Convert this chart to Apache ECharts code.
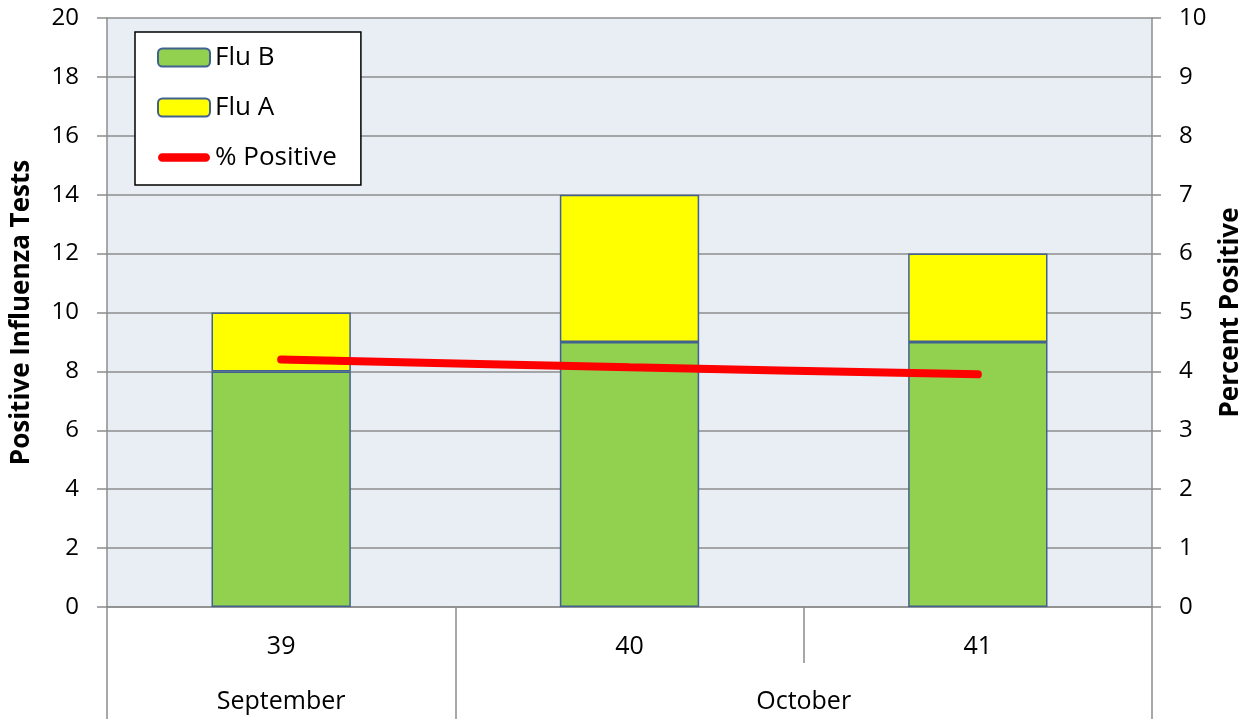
<!DOCTYPE html>
<html>
<head>
<meta charset="utf-8">
<script src="https://cdn.jsdelivr.net/npm/echarts@6/dist/echarts.min.js"></script>
<style>html,body{margin:0;padding:0;background:#fff}#c{width:1240px;height:721px}</style>
</head>
<body>
<div id="c"></div>
<script>
var weeks = ['39', '40', '41'];
var fluB = [8, 9, 9];
var fluA = [2, 5, 3];
var pctPositive = [4.2, 4.07, 3.95];
// second-level axis: 7 evenly spaced points across 3 week bands (half-band steps)
var monthSlots = ['', 'September', '', '', 'October', '', ''];
var monthBounds = [0, 1, 3];   // month boundaries, in week-band units

var FONT = 'Open Sans';
var GRAY = '#8c8c8c';
var chart = echarts.init(document.getElementById('c'));
chart.setOption({
  animation: false,
  textStyle: { fontFamily: FONT, color: '#000' },
  grid: { left: 107, right: 88, top: 18, bottom: 114, outerBoundsMode: 'none', containLabel: false,
          show: true, backgroundColor: '#e9edf4', borderWidth: 0 },
  legend: {
    orient: 'vertical', left: 135, top: 32,
    padding: [12, 24, 14, 22],
    backgroundColor: '#fff', borderColor: '#000', borderWidth: 1.5,
    itemWidth: 52, itemHeight: 18, itemGap: 23,
    textStyle: { fontFamily: FONT, fontSize: 26, lineHeight: 27, color: '#000' },
    data: ['Flu B', 'Flu A', {
      name: '% Positive',
      icon: 'path://M0,0L0.01,0L0,0.01Z M5,4 L55,4 A5,5 0 0 1 55,14 L5,14 A5,5 0 0 1 5,4Z M0,18L0.01,18L0,17.99Z',
      itemStyle: { color: '#ff0000', borderWidth: 0 }
    }]
  },
  xAxis: [{
    type: 'category', data: weeks, position: 'bottom',
    axisLine: { lineStyle: { color: GRAY, width: 1.5 } },
    axisTick: { show: true, interval: 0, length: 56, lineStyle: { color: GRAY, width: 1.5 } },
    axisLabel: { fontFamily: FONT, fontSize: 25, color: '#000', margin: 27 }
  }, {
    type: 'category', data: monthSlots, boundaryGap: false, position: 'bottom', offset: 56,
    axisLine: { show: false, onZero: false },
    splitLine: { show: false },
    axisTick: { show: false },
    axisLabel: { interval: 0, fontFamily: FONT, fontSize: 25, color: '#000', margin: 26 }
  }, {
    type: 'value', min: 0, max: 3, position: 'bottom', offset: 56,
    axisLine: { show: true, onZero: false, lineStyle: { color: 'rgba(0,0,0,0)', width: 1 } },
    splitLine: { show: false },
    axisTick: { show: true, customValues: monthBounds, length: 56, lineStyle: { color: GRAY, width: 1.5 } },
    axisLabel: { show: false }
  }],
  yAxis: [{
    type: 'value', min: 0, max: 20, interval: 2,
    name: 'Positive Influenza Tests', nameLocation: 'middle', nameRotate: 90, nameGap: 72,
    nameTextStyle: { fontFamily: FONT, fontSize: 26, fontWeight: 'bold', color: '#000' },
    axisLine: { show: true, lineStyle: { color: GRAY, width: 1.5 } },
    axisTick: { show: true, length: 10, lineStyle: { color: GRAY, width: 1.5 } },
    axisLabel: { fontFamily: FONT, fontSize: 24, color: '#000', margin: 28 },
    splitLine: { show: true, lineStyle: { color: GRAY, width: 1.5 } }
  }, {
    type: 'value', min: 0, max: 10, interval: 1, position: 'right',
    name: 'Percent Positive', nameLocation: 'middle', nameRotate: 90, nameGap: 64,
    nameTextStyle: { fontFamily: FONT, fontSize: 26, fontWeight: 'bold', color: '#000' },
    axisLine: { show: true, lineStyle: { color: GRAY, width: 1.5 } },
    axisTick: { show: true, length: 9, lineStyle: { color: GRAY, width: 1.5 } },
    axisLabel: { fontFamily: FONT, fontSize: 24, color: '#000', margin: 27 },
    splitLine: { show: false }
  }],
  series: [{
    name: 'Flu B', type: 'bar', stack: 'tests', data: fluB, barWidth: '40%',
    itemStyle: { color: '#92d050', borderColor: '#41618f', borderWidth: 1.5 }
  }, {
    name: 'Flu A', type: 'bar', stack: 'tests', data: fluA, barWidth: '40%',
    itemStyle: { color: '#ffff00', borderColor: '#41618f', borderWidth: 1.5 }
  }, {
    name: '% Positive', type: 'line', yAxisIndex: 1, data: pctPositive,
    symbol: 'none', smooth: 0.3,
    lineStyle: { color: '#ff0000', width: 8, cap: 'round' },
    itemStyle: { color: '#ff0000' }
  }]
});
</script>
</body>
</html>
